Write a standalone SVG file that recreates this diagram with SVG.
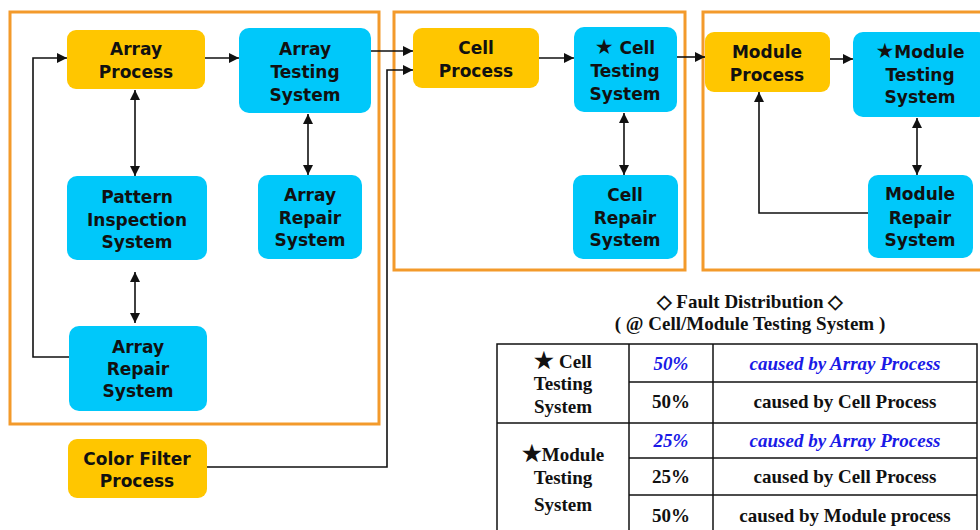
<svg xmlns="http://www.w3.org/2000/svg" width="980" height="530" viewBox="0 0 980 530">
<style>
.frame{fill:none;stroke:#F39A2B;stroke-width:3}
.orange{fill:#FFC600}
.blue{fill:#00C8FA}
.nt{font-family:"DejaVu Sans",Verdana,sans-serif;font-weight:bold;font-size:17px;fill:#111;text-anchor:middle}
.st{font-size:21px}
.ln{fill:none;stroke:#111;stroke-width:1.6}
.tt{font-family:"Liberation Serif","Times New Roman",serif;font-weight:bold;font-size:19px;fill:#111;text-anchor:middle}
.bl{fill:#1A1AE6;font-style:italic}
.grid{stroke:#111;stroke-width:1.5;fill:none}
</style>
<defs>
<marker id="ah" viewBox="0 0 10 10" refX="10" refY="5" markerWidth="10" markerHeight="10" markerUnits="userSpaceOnUse" orient="auto-start-reverse">
<path d="M0,0 L10,5 L0,10 z" fill="#111"/>
</marker>
</defs>
<rect width="980" height="530" fill="#fff"/>
<g id="frames">
<rect class="frame" x="10" y="12" width="369" height="412"/>
<rect class="frame" x="394" y="12" width="291" height="258"/>
<rect class="frame" x="703" y="12" width="290" height="258"/>
</g>
<g id="connectors">
<line class="ln" x1="205" y1="58" x2="239" y2="58" marker-end="url(#ah)"/>
<line class="ln" x1="135" y1="90" x2="135" y2="176" marker-start="url(#ah)" marker-end="url(#ah)"/>
<line class="ln" x1="308" y1="114" x2="308" y2="175" marker-start="url(#ah)" marker-end="url(#ah)"/>
<line class="ln" x1="135" y1="272" x2="135" y2="323" marker-start="url(#ah)" marker-end="url(#ah)"/>
<polyline class="ln" points="69,357 33,357 33,58 67,58" marker-end="url(#ah)"/>
<polyline class="ln" points="371,51 413,51" marker-end="url(#ah)"/>
<polyline class="ln" points="207,467 387,467 387,70 413,70" marker-end="url(#ah)"/>
<line class="ln" x1="539" y1="58" x2="574" y2="58" marker-end="url(#ah)"/>
<line class="ln" x1="624" y1="113" x2="624" y2="175" marker-start="url(#ah)" marker-end="url(#ah)"/>
<line class="ln" x1="677" y1="57" x2="705" y2="57" marker-end="url(#ah)"/>
<line class="ln" x1="830" y1="59" x2="853" y2="59" marker-end="url(#ah)"/>
<line class="ln" x1="917" y1="118" x2="917" y2="175" marker-start="url(#ah)" marker-end="url(#ah)"/>
<polyline class="ln" points="868,213 759,213 759,92" marker-end="url(#ah)"/>
</g>
<g id="array-process">
<rect class="orange" x="67" y="30" width="138" height="59" rx="9"/>
<text class="nt" x="136" y="55">Array</text><text class="nt" x="136" y="78">Process</text>
</g>
<g id="array-testing">
<rect class="blue" x="239" y="28" width="132" height="85" rx="10"/>
<text class="nt" x="305" y="55">Array</text><text class="nt" x="305" y="78">Testing</text><text class="nt" x="305" y="101">System</text>
</g>
<g id="pattern-inspection">
<rect class="blue" x="67" y="176" width="140" height="84" rx="10"/>
<text class="nt" x="137" y="203">Pattern</text><text class="nt" x="137" y="226">Inspection</text><text class="nt" x="137" y="248">System</text>
</g>
<g id="array-repair-1">
<rect class="blue" x="258" y="175" width="104" height="84" rx="10"/>
<text class="nt" x="310" y="201">Array</text><text class="nt" x="310" y="224">Repair</text><text class="nt" x="310" y="246">System</text>
</g>
<g id="array-repair-2">
<rect class="blue" x="69" y="326" width="138" height="85" rx="10"/>
<text class="nt" x="138" y="353">Array</text><text class="nt" x="138" y="375">Repair</text><text class="nt" x="138" y="397">System</text>
</g>
<g id="color-filter">
<rect class="orange" x="68" y="439" width="139" height="59" rx="9"/>
<text class="nt" x="137" y="465">Color Filter</text><text class="nt" x="137" y="487">Process</text>
</g>
<g id="cell-process">
<rect class="orange" x="413" y="28" width="126" height="60" rx="9"/>
<text class="nt" x="476" y="54">Cell</text><text class="nt" x="476" y="77">Process</text>
</g>
<g id="cell-testing">
<rect class="blue" x="574" y="27" width="103" height="85" rx="10"/>
<text class="nt" x="625" y="54"><tspan class="st">★</tspan> Cell</text><text class="nt" x="625" y="77">Testing</text><text class="nt" x="625" y="100">System</text>
</g>
<g id="cell-repair">
<rect class="blue" x="573" y="175" width="105" height="84" rx="10"/>
<text class="nt" x="625" y="201">Cell</text><text class="nt" x="625" y="224">Repair</text><text class="nt" x="625" y="246">System</text>
</g>
<g id="module-process">
<rect class="orange" x="705" y="32" width="125" height="60" rx="9"/>
<text class="nt" x="767" y="58">Module</text><text class="nt" x="767" y="81">Process</text>
</g>
<g id="module-testing">
<rect class="blue" x="853" y="32" width="135" height="85" rx="10"/>
<text class="nt" x="920" y="58"><tspan class="st">★</tspan>Module</text><text class="nt" x="920" y="81">Testing</text><text class="nt" x="920" y="103">System</text>
</g>
<g id="module-repair">
<rect class="blue" x="868" y="175" width="105" height="83" rx="10"/>
<text class="nt" x="920" y="200">Module</text><text class="nt" x="920" y="224">Repair</text><text class="nt" x="920" y="246">System</text>
</g>
<g id="fault-table">
<text class="tt" x="750" y="308">◇ Fault Distribution ◇</text>
<text class="tt" x="750" y="330">( @ Cell/Module Testing System )</text>
<rect class="grid" x="497" y="344" width="480" height="200" stroke-width="2.5"/>
<line class="grid" x1="629" y1="344" x2="629" y2="530"/>
<line class="grid" x1="713" y1="344" x2="713" y2="530"/>
<line class="grid" x1="629" y1="382" x2="977" y2="382"/>
<line class="grid" x1="497" y1="423" x2="977" y2="423"/>
<line class="grid" x1="629" y1="458" x2="977" y2="458"/>
<line class="grid" x1="629" y1="495" x2="977" y2="495"/>
<text class="tt" x="563" y="368"><tspan font-size="22">★</tspan> Cell</text>
<text class="tt" x="563" y="390">Testing</text>
<text class="tt" x="563" y="413">System</text>
<text class="tt" x="563" y="461"><tspan font-size="22">★</tspan>Module</text>
<text class="tt" x="563" y="484">Testing</text>
<text class="tt" x="563" y="511">System</text>
<text class="tt bl" x="671" y="370">50%</text>
<text class="tt" x="671" y="408">50%</text>
<text class="tt bl" x="671" y="447">25%</text>
<text class="tt" x="671" y="483">25%</text>
<text class="tt" x="671" y="522">50%</text>
<text class="tt bl" x="845" y="370">caused by Array Process</text>
<text class="tt" x="845" y="408">caused by Cell Process</text>
<text class="tt bl" x="845" y="447">caused by Array Process</text>
<text class="tt" x="845" y="483">caused by Cell Process</text>
<text class="tt" x="845" y="522">caused by Module process</text>
</g>
</svg>
